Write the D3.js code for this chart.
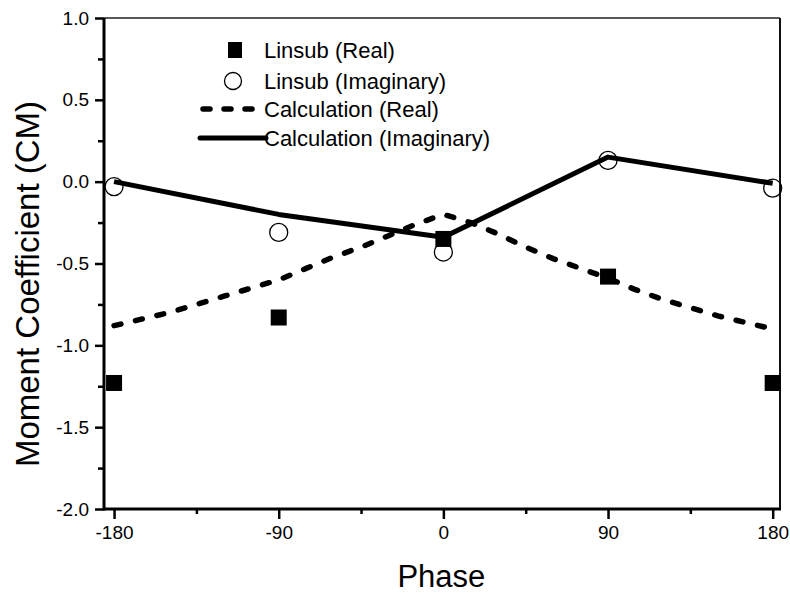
<!DOCTYPE html>
<html>
<head>
<meta charset="utf-8">
<script src="https://cdn.jsdelivr.net/npm/d3@7"></script>
<style>
  body { margin: 0; background: #fff; }
  text { font-family: "Liberation Sans", Arial, sans-serif; fill: #000; }
  .tick text { font-size: 19px; }
</style>
</head>
<body>
<script>
// phases where the Linsub values were taken
var phases = [-180, -90, 0, 90, 180];
var linsubReal = [-1.23, -0.83, -0.35, -0.58, -1.23];
var linsubImag = [-0.03, -0.31, -0.43, 0.13, -0.04];

// calculation curves
var calcImagPhase = [-180, -90, 0, 90, 180];
var calcImag = [0.0, -0.2, -0.34, 0.15, -0.01];

var calcRealPhase = [-180, -165, -150, -135, -120, -105, -90, -75, -60, -45, -30, -15, 0,
                     15, 30, 45, 60, 75, 90, 105, 120, 135, 150, 165, 180];
var calcReal = [-0.88, -0.84, -0.80, -0.75, -0.70, -0.65, -0.60, -0.53, -0.46, -0.40, -0.33, -0.26, -0.20,
                -0.25, -0.32, -0.40, -0.47, -0.53, -0.59, -0.66, -0.72, -0.77, -0.82, -0.86, -0.90];

var xTicks = [-180, -90, 0, 90, 180];
var xMinor = [-135, -45, 45, 135];
var yTicks = [1.0, 0.5, 0.0, -0.5, -1.0, -1.5, -2.0];
var yMinor = [0.75, 0.25, -0.25, -0.75, -1.25, -1.75];

var legendLabels = ["Linsub (Real)", "Linsub (Imaginary)", "Calculation (Real)", "Calculation (Imaginary)"];

(function() {
var W = 790, H = 593;
var pL = 104, pR = 780, pT = 18, pB = 509;

var svg = d3.select("body").append("svg")
    .attr("width", W)
    .attr("height", H);

var x = d3.scaleLinear().domain([-185.5, 184]).range([pL, pR]);
var y = d3.scaleLinear().domain([-2, 1]).range([pB, pT]);

// plain hyphen for negatives, like the original
var fmtX = function(d) { return String(d); };
var fmtY = function(d) { return d.toFixed(1); };

// frame (top and right thin)
svg.append("line").attr("x1", pL).attr("x2", pR).attr("y1", pT).attr("y2", pT)
    .attr("stroke", "#222").attr("stroke-width", 1.5);
svg.append("line").attr("x1", pR).attr("x2", pR).attr("y1", pT).attr("y2", pB)
    .attr("stroke", "#111").attr("stroke-width", 2);

// axes
var gx = svg.append("g").attr("transform", "translate(0," + pB + ")")
    .call(d3.axisBottom(x).tickValues(xTicks).tickSize(10).tickPadding(7).tickFormat(fmtX));
var gxm = svg.append("g").attr("transform", "translate(0," + pB + ")")
    .call(d3.axisBottom(x).tickValues(xMinor).tickSize(5).tickFormat(""));
var gy = svg.append("g").attr("transform", "translate(" + pL + ",0)")
    .call(d3.axisLeft(y).tickValues(yTicks).tickSize(9).tickPadding(6).tickFormat(fmtY));
var gym = svg.append("g").attr("transform", "translate(" + pL + ",0)")
    .call(d3.axisLeft(y).tickValues(yMinor).tickSize(6).tickFormat(""));

[gx, gxm, gy, gym].forEach(function(g) {
    g.attr("font-size", null).attr("font-family", null);
    g.select(".domain").remove();
    g.selectAll(".tick line").attr("stroke-width", 2.5);
});

svg.append("line").attr("x1", pL).attr("x2", pR + 1).attr("y1", pB).attr("y2", pB)
    .attr("stroke", "#000").attr("stroke-width", 3);
svg.append("line").attr("x1", pL).attr("x2", pL).attr("y1", pT).attr("y2", pB + 1.5)
    .attr("stroke", "#000").attr("stroke-width", 3);

// axis titles
svg.append("text")
    .attr("x", x(0) - 2).attr("y", 587)
    .attr("text-anchor", "middle")
    .style("font-size", "31px")
    .text("Phase");

svg.append("text")
    .attr("transform", "translate(39,284) rotate(-90)")
    .attr("text-anchor", "middle")
    .style("font-size", "33px")
    .text("Moment Coefficient (CM)");

// lines
var lineGen = d3.line()
    .x(function(d) { return x(d[0]); })
    .y(function(d) { return y(d[1]); });

var realPts = calcRealPhase.map(function(p, i) { return [p, calcReal[i]]; });
var imagPts = calcImagPhase.map(function(p, i) { return [p, calcImag[i]]; });

svg.append("path").datum(realPts)
    .attr("d", lineGen)
    .attr("fill", "none")
    .attr("stroke", "#000")
    .attr("stroke-width", 5.5)
    .attr("stroke-linecap", "round")
    .attr("stroke-dasharray", "7,15");

svg.append("path").datum(imagPts)
    .attr("d", lineGen)
    .attr("fill", "none")
    .attr("stroke", "#000")
    .attr("stroke-width", 5)
    .attr("stroke-linejoin", "round");

// points
var sq = 16;
svg.selectAll("rect.real").data(phases).enter().append("rect")
    .attr("class", "real")
    .attr("x", function(d) { return x(d) - sq / 2; })
    .attr("y", function(d, i) { return y(linsubReal[i]) - sq / 2; })
    .attr("width", sq).attr("height", sq)
    .attr("fill", "#000");

svg.selectAll("circle.imag").data(phases).enter().append("circle")
    .attr("class", "imag")
    .attr("cx", function(d) { return x(d); })
    .attr("cy", function(d, i) { return y(linsubImag[i]); })
    .attr("r", 9)
    .attr("fill", "none")
    .attr("stroke", "#000")
    .attr("stroke-width", 1.3);

// legend
var legY = [50, 81, 109, 138];
var leg = svg.append("g");
leg.append("rect").attr("x", 228).attr("y", legY[0] - 8).attr("width", 14).attr("height", 16).attr("fill", "#000");
leg.append("circle").attr("cx", 233).attr("cy", legY[1]).attr("r", 8.5)
    .attr("fill", "none").attr("stroke", "#000").attr("stroke-width", 1.3);
leg.append("line").attr("x1", 203).attr("x2", 262).attr("y1", legY[2]).attr("y2", legY[2])
    .attr("stroke", "#000").attr("stroke-width", 5.5).attr("stroke-linecap", "round")
    .attr("stroke-dasharray", "7,14");
leg.append("line").attr("x1", 200).attr("x2", 266).attr("y1", legY[3]).attr("y2", legY[3])
    .attr("stroke", "#000").attr("stroke-width", 5).attr("stroke-linecap", "round");

leg.selectAll("text").data(legendLabels).enter().append("text")
    .attr("x", 264)
    .attr("y", function(d, i) { return legY[i]; })
    .attr("dy", "0.36em")
    .style("font-size", "22px")
    .text(function(d) { return d; });
})();
</script>
</body>
</html>
